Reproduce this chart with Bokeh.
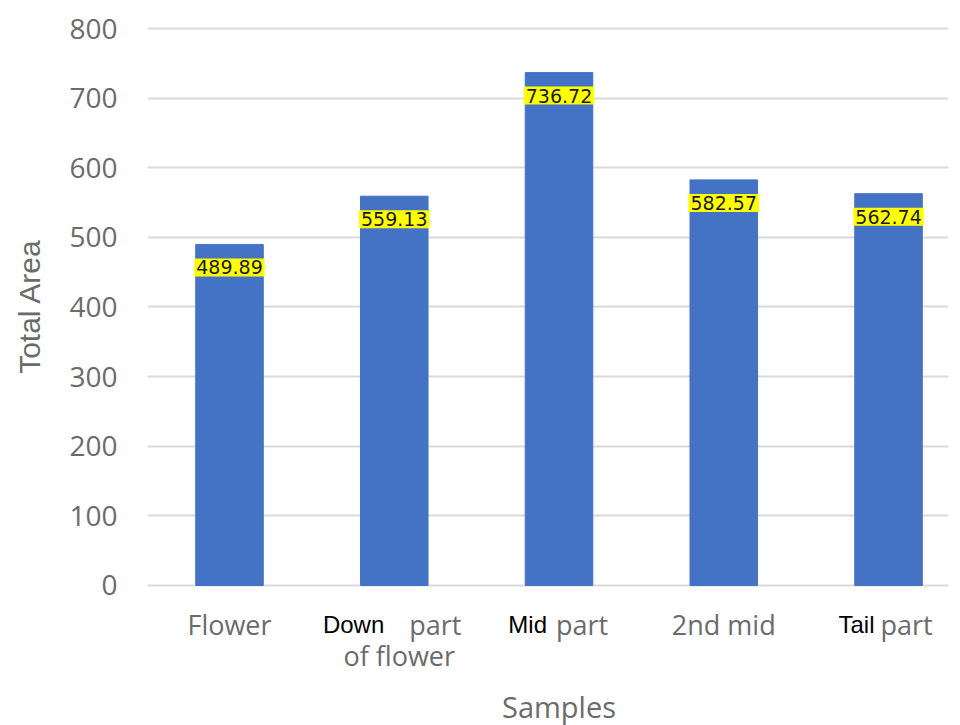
from bokeh.plotting import figure
from bokeh.models import Range1d, FixedTicker, Label
from bokeh.embed import file_html
from bokeh.resources import INLINE

# ---- data ----
categories = ["Flower", "Down part of flower", "Mid part", "2nd mid", "Tail part"]
total_area = [489.89, 559.13, 736.72, 582.57, 562.74]
y_ticks = [0, 100, 200, 300, 400, 500, 600, 700, 800]
x_title = "Samples"
y_title = "Total Area"

# category label pieces: category index, text, style, align, pixel x offset, row
label_parts = [
    (0, "Flower", "gray", "center", 0, 1),
    (1, "Down", "black", "right", -10, 1),
    (1, "part", "gray", "left", 15, 1),
    (1, "of flower", "gray", "center", 5, 2),
    (2, "Mid", "black", "right", -12, 1),
    (2, "part", "gray", "left", -3, 1),
    (3, "2nd mid", "gray", "center", 0, 1),
    (4, "Tail", "black", "right", -14, 1),
    (4, "part", "gray", "left", -8, 1),
]

GRAY = "#6b6b6b"
idx = list(range(len(categories)))

# frame reaches down to the bottom so the category texts are inside it
p = figure(
    width=952, height=725,
    x_range=Range1d(-0.4977, 4.364),
    y_range=Range1d(-201.1, 811.5),
    output_backend="svg", toolbar_location=None,
    min_border_left=147, min_border_right=4,
    min_border_top=20, min_border_bottom=0,
)

p.vbar(x=idx, top=total_area, width=0.41, bottom=0,
       fill_color="#4472C4", line_color="#4472C4")

for i, v in zip(idx, total_area):
    p.add_layout(Label(
        x=i, y=v, y_offset=-23, text=f"{v:.2f}",
        text_align="center", text_baseline="middle",
        text_font="DejaVu Sans", text_font_size="19px", text_color="#1a1a1a",
        background_fill_color="#FFFF00", padding=2,
    ))

# category texts (below the zero line)
row_offset = {1: -39, 2: -70}
styles = {
    "gray": dict(text_color=GRAY, text_font="Open Sans", text_font_size="27px"),
    "black": dict(text_color="#000000", text_font="Liberation Sans", text_font_size="24px"),
}
for i, t, st, al, xo, row in label_parts:
    p.add_layout(Label(x=i, y=0, x_offset=xo, y_offset=row_offset[row], text=t,
                       text_align=al, text_baseline="alphabetic", **styles[st]))

p.add_layout(Label(x=2, y=0, y_offset=-121, text=x_title,
                   text_align="center", text_baseline="alphabetic",
                   text_color=GRAY, text_font="Open Sans", text_font_size="29px"))

p.xaxis.visible = False
p.yaxis.ticker = FixedTicker(ticks=y_ticks)
p.yaxis.axis_line_color = None
p.yaxis.major_tick_line_color = None
p.yaxis.minor_tick_line_color = None
p.yaxis.major_label_standoff = 24
p.yaxis.major_label_text_font = "Open Sans"
p.yaxis.major_label_text_font_size = "28px"
p.yaxis.major_label_text_color = GRAY
# non-breaking spaces lift the rotated title to the middle of the 0-800 span
p.yaxis.axis_label = "\u00a0" * 16 + y_title
p.yaxis.axis_label_text_font = "Liberation Sans"
p.yaxis.axis_label_text_font_size = "30px"
p.yaxis.axis_label_text_font_style = "normal"
p.yaxis.axis_label_text_color = GRAY
p.yaxis.axis_label_standoff = 20

p.xgrid.grid_line_color = None
p.ygrid.grid_line_color = "#d9d9d9"
p.ygrid.grid_line_width = 2
p.outline_line_color = None

open("out.html", "w").write(file_html(p, INLINE))
